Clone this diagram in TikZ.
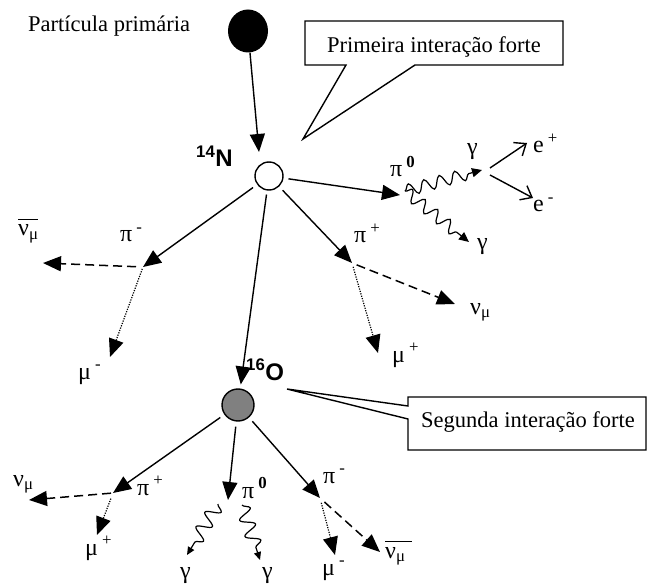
\documentclass[tikz,border=0pt]{standalone}
\usepackage{fontspec}
\setmainfont{Liberation Serif}
\newfontfamily\helv{Liberation Sans}
\usetikzlibrary{arrows.meta,decorations.pathmorphing,shapes.geometric}
\newcommand{\myup}[1]{\,\textsuperscript{#1}}
\newcommand{\nubar}[1]{\makebox[0pt][l]{\rule[16pt]{#1}{1.1pt}}ν\textsubscript{μ}}
\begin{document}
\begin{tikzpicture}[x=1pt,y=-1pt,
  every node/.style={inner sep=0pt},
  lbl/.style={anchor=base west, font=\fontsize{24}{26}\selectfont},
  txt/.style={anchor=base, font=\fontsize{22.5}{26}\selectfont},
  nuc/.style={anchor=base west, font=\helv\bfseries\fontsize{24}{26}\selectfont},
  tipbig/.style={-{Triangle[length=18pt,width=15pt]}},
  main/.style={line width=1.4pt, tipbig},
  dashedarr/.style={line width=1.5pt, dash pattern=on 9pt off 5pt, tipbig},
  dottedarr/.style={line width=1.2pt, dash pattern=on 1.2pt off 1.3pt, tipbig},
  photon/.style={line width=1.2pt, decorate, decoration={snake, amplitude=6pt, segment length=16pt, post length=9pt}, -{Triangle[length=10pt,width=9pt]}},
  photonb/.style={line width=1.2pt, decorate, decoration={snake, amplitude=7pt, segment length=17pt, post length=8pt}, -{Triangle[length=8pt,width=7pt]}},
  lepton/.style={line width=1.4pt, -{Straight Barb[length=10pt,width=16pt]}},
  callout/.style={line width=1.4pt}]
\useasboundingbox (0,0) rectangle (648,588);

% primary particle and nuclei
\node[ellipse, fill=black, minimum width=40pt, minimum height=43pt] (P) at (248,31) {};
\node[txt, anchor=base west] (lblP) at (28,32) {Partícula primária};
\node[circle, draw, line width=1.4pt, fill=white, minimum size=28pt] (N) at (269,176) {};
\node[circle, draw, line width=1.4pt, fill=black!50, minimum size=32pt] (O) at (238,405) {};
\node[nuc] (lblN) at (196,167) {\textsuperscript{14}N};
\node[nuc] (lblO) at (246,380) {\textsuperscript{16}O};

\coordinate (tN) at (259,152);
\draw[main] (P) -- (tN);

% callouts
\node[txt] (c1) at (434,53) {Primeira interação forte};
\draw[callout] (305,21) -- (563,21) -- (563,65) -- (415,65) -- (303,139) -- (346,65) -- (305,65) -- cycle;
\node[txt] (c2) at (528,427) {Segunda interação forte};
\draw[callout] (408,397) -- (646,397) -- (646,450) -- (408,450) -- (408,419) -- (287,389) -- (408,406) -- cycle;

% first interaction
\coordinate (vA) at (143,267);
\coordinate (vB) at (352,263);
\coordinate (vC) at (400,195);
\draw[main, shorten <=5pt] (N) -- (vA);
\draw[main, shorten <=5pt] (N) -- (vB);
\draw[main, shorten <=5pt] (N) -- (vC);
\draw[main, shorten <=4pt, shorten >=4pt] (N) -- (O);

\coordinate (nubA) at (43,263);
\coordinate (muA) at (110,357);
\draw[dashedarr, shorten <=7pt] (vA) -- (nubA);
\draw[dottedarr, shorten <=2pt] (vA) -- (muA);

\coordinate (nuB) at (455,304);
\coordinate (muB) at (378,353);
\draw[dashedarr, shorten <=5pt] (vB) -- (nuB);
\draw[dottedarr, shorten <=4pt] (vB) -- (muB);

\coordinate (gs) at (405,191);
\coordinate (g1) at (482,170);
\coordinate (g2) at (469,242);
\draw[photon] (gs) -- (g1);
\draw[photon] (gs) -- (g2);

\coordinate (ve1) at (490,168);
\coordinate (ve2) at (490,175);
\coordinate (ep) at (527,143);
\coordinate (em) at (533,198);
\draw[lepton] (ve1) -- (ep);
\draw[lepton] (ve2) -- (em);

% second interaction
\coordinate (vD) at (113,493);
\coordinate (vE) at (228,500);
\coordinate (vF) at (320,498);
\draw[main, shorten <=5pt] (O) -- (vD);
\draw[main, shorten <=5pt] (O) -- (vE);
\draw[main, shorten <=5pt] (O) -- (vF);

\coordinate (nuD) at (29,500);
\coordinate (muD) at (97,535);
\draw[dashedarr, shorten <=2pt] (vD) -- (nuD);
\draw[dottedarr, shorten <=6pt] (vD) -- (muD);

\coordinate (gE1s) at (218,504);
\coordinate (gE1) at (187,555);
\coordinate (gE2s) at (242,505);
\coordinate (gE2) at (260,560);
\draw[photonb] (gE1s) -- (gE1);
\draw[photonb] (gE2s) -- (gE2);

\coordinate (muF) at (335,555);
\coordinate (nubF) at (380,552);
\draw[dottedarr, shorten <=5pt] (vF) -- (muF);
\draw[dashedarr, shorten <=6pt] (vF) -- (nubF);

% labels
\node[lbl] (l1) at (18,236) {\nubar{20pt}};
\node[lbl] (l2) at (120,242) {π\myup{-}};
\node[lbl] (l3) at (78,379) {μ\myup{-}};
\node[lbl] (l4) at (354,243) {π\myup{+}};
\node[lbl] (l5) at (470,314) {ν\textsubscript{μ}};
\node[lbl] (l6) at (392,362) {μ\myup{+}};
\node[lbl] (l7) at (390,177) {π\myup{\textbf{0}}};
\node[lbl] (l8) at (467,155) {γ};
\node[lbl] (l9) at (477,250) {γ};
\node[lbl] (l10) at (533,153) {e\myup{+}};
\node[lbl] (l11) at (533,212) {e\myup{-}};
\node[lbl] (l12) at (13,486) {ν\textsubscript{μ}};
\node[lbl] (l13) at (137,495) {π\myup{+}};
\node[lbl] (l14) at (85,555) {μ\myup{+}};
\node[lbl] (l15) at (180,578) {γ};
\node[lbl] (l16) at (242,498) {π\myup{\textbf{0}}};
\node[lbl] (l17) at (262,578) {γ};
\node[lbl] (l18) at (323,483) {π\myup{-}};
\node[lbl] (l19) at (322,575) {μ\myup{-}};
\node[lbl] (l20) at (385,558) {\nubar{27pt}};
\end{tikzpicture}
\end{document}
